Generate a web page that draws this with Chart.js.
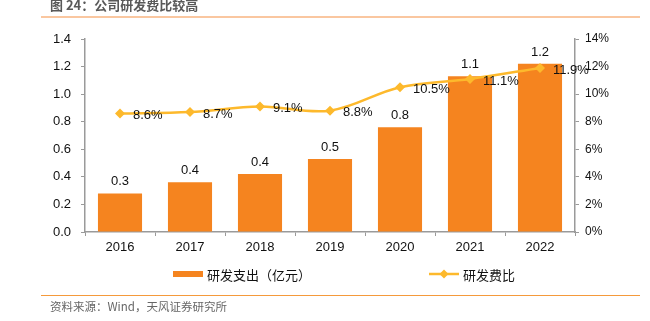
<!DOCTYPE html>
<html>
<head>
<meta charset="utf-8">
<script src="https://cdn.jsdelivr.net/npm/chart.js@4.4.1/dist/chart.umd.min.js"></script>
<style>
  html, body { margin: 0; padding: 0; background: #fff; }
  #wrap { position: relative; width: 650px; height: 321px; }
</style>
</head>
<body>
<div id="wrap"><canvas id="rdChart" width="650" height="321"></canvas></div>
<script>
// R&D spending (100m yuan) and R&D ratio, 2016-2022
const years = ['2016', '2017', '2018', '2019', '2020', '2021', '2022'];
const rdSpend = [0.28, 0.36, 0.42, 0.53, 0.76, 1.13, 1.22];
const rdRatio = [8.6, 8.7, 9.1, 8.8, 10.5, 11.1, 11.9];
const leftTicks = [0, 0.2, 0.4, 0.6, 0.8, 1.0, 1.2, 1.4];
const rightTicks = [0, 2, 4, 6, 8, 10, 12, 14];

const barColor = '#F5841F';
const lineColor = '#FDB92C';
const axisColor = '#9a9a9a';
const latin = "'Liberation Sans', Arial, sans-serif";
const cjk = "'Noto Sans CJK SC', 'Noto Sans', sans-serif";

// Title, rules, legend, footer and value labels
const decorPlugin = {
    id: 'decor',
    afterDraw(chart) {
        const ctx = chart.ctx;
        ctx.save();

        // header
        ctx.fillStyle = '#595959';
        ctx.font = 'bold 13px ' + cjk;
        ctx.textBaseline = 'middle';
        ctx.textAlign = 'left';
        ctx.fillText('图 24：公司研发费比较高', 50, 5);
        ctx.strokeStyle = '#F8B581';
        ctx.lineWidth = 1.5;
        ctx.beginPath();
        ctx.moveTo(41, 17);
        ctx.lineTo(640, 17);
        ctx.stroke();

        // footer
        ctx.strokeStyle = '#F59A3B';
        ctx.lineWidth = 1.2;
        ctx.beginPath();
        ctx.moveTo(41, 295.5);
        ctx.lineTo(640, 295.5);
        ctx.stroke();
        ctx.fillStyle = '#666';
        ctx.font = '11.5px ' + cjk;
        ctx.fillText('资料来源：Wind，天风证券研究所', 50, 307);

        // legend
        ctx.fillStyle = barColor;
        ctx.fillRect(173, 271, 30, 6);
        ctx.fillStyle = '#111';
        ctx.font = '13px ' + cjk;
        ctx.fillText('研发支出（亿元）', 207, 275);

        ctx.strokeStyle = lineColor;
        ctx.lineWidth = 2.5;
        ctx.beginPath();
        ctx.moveTo(429, 274);
        ctx.lineTo(459, 274);
        ctx.stroke();
        drawDiamond(ctx, 444, 274, 4.5);
        ctx.fillStyle = '#111';
        ctx.fillText('研发费比', 463, 275);

        // bar values
        ctx.font = '13px ' + latin;
        ctx.textAlign = 'center';
        ctx.textBaseline = 'alphabetic';
        chart.getDatasetMeta(1).data.forEach((bar, i) => {
            ctx.fillText(rdSpend[i].toFixed(1), bar.x, bar.y - 8);
        });

        // ratio values
        ctx.textAlign = 'left';
        ctx.textBaseline = 'middle';
        chart.getDatasetMeta(0).data.forEach((pt, i) => {
            ctx.fillText(rdRatio[i].toFixed(1) + '%', pt.x + 13, pt.y + 2);
        });

        ctx.restore();
    }
};

function drawDiamond(ctx, x, y, r) {
    ctx.fillStyle = lineColor;
    ctx.beginPath();
    ctx.moveTo(x, y - r);
    ctx.lineTo(x + r, y);
    ctx.lineTo(x, y + r);
    ctx.lineTo(x - r, y);
    ctx.closePath();
    ctx.fill();
}

const ctx = document.getElementById('rdChart').getContext('2d');
new Chart(ctx, {
    data: {
        labels: years,
        datasets: [
            {
                type: 'line',
                label: '研发费比',
                data: rdRatio,
                yAxisID: 'yRight',
                borderColor: lineColor,
                backgroundColor: lineColor,
                borderWidth: 2.5,
                tension: 0.35,
                pointStyle: 'rectRot',
                pointRadius: 5,
                pointBackgroundColor: lineColor,
                pointBorderWidth: 0,
                order: 0
            },
            {
                type: 'bar',
                label: '研发支出（亿元）',
                data: rdSpend,
                yAxisID: 'yLeft',
                backgroundColor: barColor,
                categoryPercentage: 1,
                barPercentage: 0.63,
                order: 1
            }
        ]
    },
    options: {
        responsive: false,
        animation: false,
        layout: { padding: { top: 39, bottom: 64, left: 0, right: 0 } },
        plugins: {
            legend: { display: false },
            tooltip: { enabled: false }
        },
        scales: {
            x: {
                offset: true,
                grid: {
                    offset: true,
                    drawOnChartArea: false,
                    drawTicks: true,
                    tickLength: 4,
                    color: axisColor
                },
                border: { color: axisColor, width: 1.5 },
                ticks: { color: '#111', font: { family: latin, size: 13 }, padding: 4 },
                afterFit(scale) { scale.height = 25; }
            },
            yLeft: {
                position: 'left',
                min: 0,
                max: 1.4,
                afterBuildTicks(scale) { scale.ticks = leftTicks.map(v => ({ value: v })); },
                grid: { drawOnChartArea: false, tickLength: 4, color: axisColor },
                border: { color: axisColor, width: 1.5 },
                ticks: {
                    color: '#111',
                    font: { family: latin, size: 13 },
                    padding: 10,
                    callback: v => v.toFixed(1)
                },
                afterFit(scale) { scale.width = 85; }
            },
            yRight: {
                position: 'right',
                min: 0,
                max: 14,
                afterBuildTicks(scale) { scale.ticks = rightTicks.map(v => ({ value: v })); },
                grid: { drawOnChartArea: false, tickLength: 4, color: axisColor },
                border: { color: axisColor, width: 1.5 },
                ticks: {
                    color: '#111',
                    font: { family: latin, size: 12 },
                    padding: 6,
                    callback: v => v + '%'
                },
                afterFit(scale) { scale.width = 75; }
            }
        }
    },
    plugins: [decorPlugin]
});
</script>
</body>
</html>
